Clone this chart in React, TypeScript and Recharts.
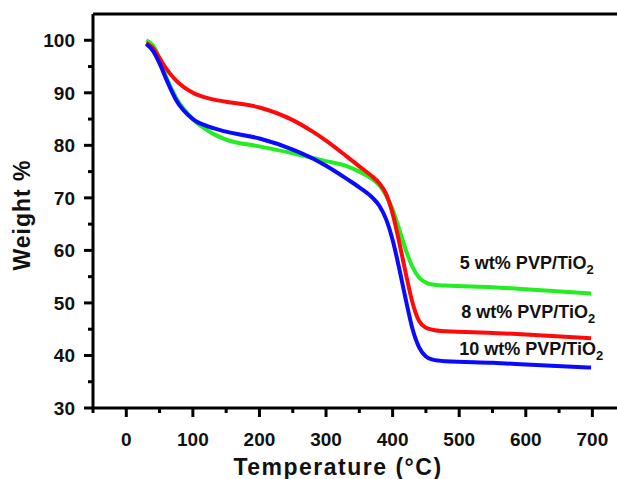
import { LineChart, Line, XAxis, YAxis, ReferenceLine, ReferenceDot } from "recharts";

// temperature (°C) sampling points shared by the three TGA curves
const temps = [30, 40, 50, 60, 75, 100, 125, 150, 200, 250, 280, 300, 330, 350, 370, 380, 390, 400, 410, 420, 430, 440, 450, 460, 480, 550, 600, 698];

const wt5 = [100, 99, 96.5, 93, 89, 85, 82.6, 81.1, 79.8, 78.5, 77.6, 77, 76.1, 75, 73.5, 72.4, 70.5, 67.8, 64, 60, 56.8, 54.8, 53.9, 53.5, 53.3, 53, 52.6, 51.8];
const wt8 = [99.5, 98.5, 96.6, 94.6, 92.3, 90, 88.9, 88.3, 87.2, 84.8, 82.6, 80.9, 78, 76, 74, 72.8, 70.8, 67, 61.5, 55.5, 50, 46.5, 45.3, 44.9, 44.6, 44.3, 44, 43.3];
const wt10 = [99.3, 98, 95.6, 92.6, 88.6, 85, 83.5, 82.6, 81.3, 79.2, 77.5, 76.1, 73.7, 72, 70, 68.5, 66, 62, 56.5, 50.5, 45, 41.5, 39.8, 39.2, 38.9, 38.6, 38.3, 37.7];

const xTicks = [-50, 0, 50, 100, 150, 200, 250, 300, 350, 400, 450, 500, 550, 600, 650, 700];
const yTicks = [30, 35, 40, 45, 50, 55, 60, 65, 70, 75, 80, 85, 90, 95, 100];

const labels = [
  { t: 501, w: 56.4, text: "5 wt% PVP/TiO" },
  { t: 503, w: 47.1, text: "8 wt% PVP/TiO" },
  { t: 500, w: 40.1, text: "10 wt% PVP/TiO" },
];

const data = temps.map((t, i) => ({ t, a: wt5[i], b: wt8[i], c: wt10[i] }));

const font = "'Liberation Sans', Arial, sans-serif";

const XTick = (props: any) => {
  const { x, y, payload } = props;
  const major = payload.value % 100 === 0;
  return (
    <g>
      <line x1={x} x2={x} y1={y} y2={y + (major ? 9 : 5)} stroke="#000" strokeWidth={3} />
      {major && (
        <text x={x} y={y + 38} textAnchor="middle" fontFamily={font} fontWeight="bold" fontSize={19} fill="#111">
          {payload.value}
        </text>
      )}
    </g>
  );
};

const YTick = (props: any) => {
  const { x, y, payload } = props;
  const major = payload.value % 10 === 0;
  return (
    <g>
      <line x1={x} x2={x - (major ? 9 : 5)} y1={y} y2={y} stroke="#000" strokeWidth={3} />
      {major && (
        <text x={x - 18} y={y + 7} textAnchor="end" fontFamily={font} fontWeight="bold" fontSize={19} fill="#111">
          {payload.value}
        </text>
      )}
    </g>
  );
};

const SeriesLabel = (text: string) => (props: any) => {
  const { viewBox } = props;
  return (
    <text x={viewBox.x} y={viewBox.y} fontFamily={font} fontWeight="bold" fontSize={18} fill="#111">
      {text}
      <tspan fontSize={13} dy={5}>2</tspan>
    </text>
  );
};

export default function App() {
  return (
    <div style={{ position: "absolute", left: 0, top: 0, width: 617, height: 479, background: "#fff" }}>
      <LineChart width={617} height={479} data={data} margin={{ top: 14, right: 0, bottom: 0, left: 0 }}>
        <XAxis
          dataKey="t"
          type="number"
          domain={[-50, 737]}
          ticks={xTicks}
          interval={0}
          height={71}
          tickSize={0}
          tickMargin={0}
          tick={<XTick />}
          axisLine={{ stroke: "#000", strokeWidth: 3 }}
          tickLine={false}
          allowDataOverflow
        />
        <YAxis
          type="number"
          domain={[30, 105]}
          ticks={yTicks}
          interval={0}
          width={93}
          tickSize={0}
          tickMargin={0}
          tick={<YTick />}
          axisLine={{ stroke: "#000", strokeWidth: 3 }}
          tickLine={false}
          allowDataOverflow
        />
        <ReferenceLine y={105} stroke="#000" strokeWidth={3} ifOverflow="visible" />
        <Line type="monotone" dataKey="a" stroke="#22ee22" strokeWidth={4} dot={false} isAnimationActive={false} />
        <Line type="monotone" dataKey="b" stroke="#ff0a0a" strokeWidth={4} dot={false} isAnimationActive={false} />
        <Line type="monotone" dataKey="c" stroke="#0a0aff" strokeWidth={4} dot={false} isAnimationActive={false} />
        {labels.map((l) => (
          <ReferenceDot key={l.text} x={l.t} y={l.w} r={0} stroke="none" label={SeriesLabel(l.text)} ifOverflow="visible" />
        ))}
      </LineChart>
      <div
        style={{
          position: "absolute",
          left: 22,
          top: 215,
          transform: "translate(-50%, -50%) rotate(-90deg)",
          fontFamily: font,
          fontWeight: "bold",
          fontSize: 23,
          letterSpacing: 1,
          color: "#111",
          whiteSpace: "nowrap",
        }}
      >
        Weight %
      </div>
      <div
        style={{
          position: "absolute",
          left: 338,
          top: 467,
          transform: "translate(-50%, -50%)",
          fontFamily: font,
          fontWeight: "bold",
          fontSize: 23,
          letterSpacing: 1.5,
          color: "#111",
          whiteSpace: "nowrap",
        }}
      >
        Temperature (°C)
      </div>
    </div>
  );
}
